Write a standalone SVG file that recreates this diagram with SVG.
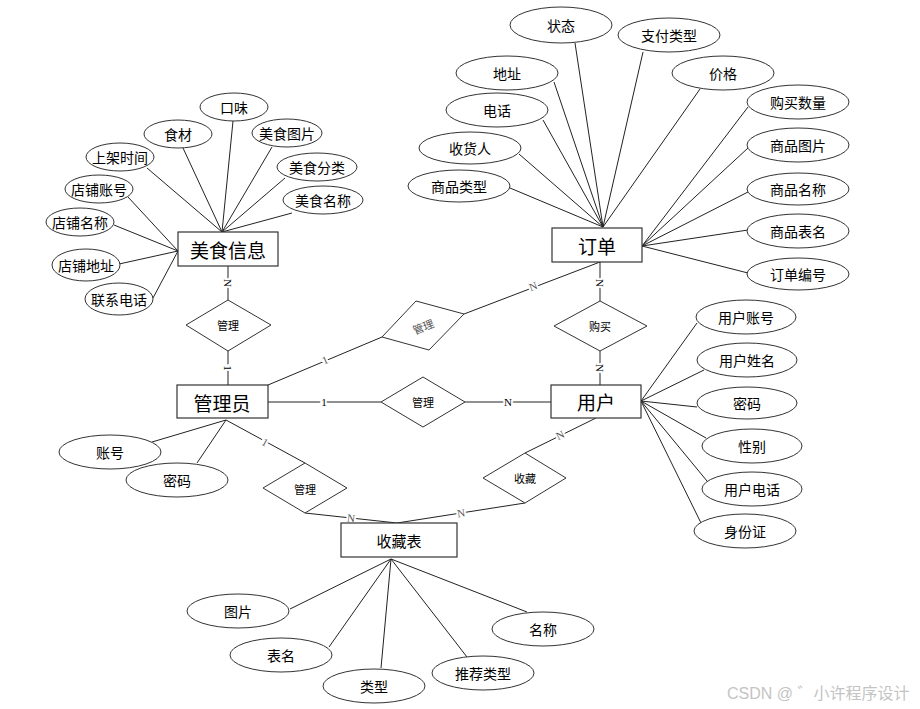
<svg xmlns="http://www.w3.org/2000/svg" width="920" height="709" viewBox="0 0 920 709">
<style>
text{font-family:"Noto Sans CJK SC","Liberation Sans",sans-serif;text-anchor:middle;dominant-baseline:central;fill:#000}
.ent rect{fill:#fff;stroke:#333;stroke-width:1.2}
.ent text{font-size:19px}
.attr ellipse{fill:#fff;stroke:#333;stroke-width:1}
.attr text{font-size:14px}
.rel polygon{fill:#fff;stroke:#333;stroke-width:1}
.rel text{font-size:11px}
#conn line{stroke:#222;stroke-width:1}
.card{font-family:"Liberation Serif",serif;font-size:11px;paint-order:stroke;stroke:#fff;stroke-width:4px}
.wm{font-family:"Liberation Sans","Noto Sans CJK SC",sans-serif;font-size:16px;fill:#c4c4c4;text-anchor:start}
</style>
<g id="conn">
<line x1="233" y1="121" x2="222" y2="232"/>
<line x1="183" y1="148" x2="222" y2="232"/>
<line x1="272" y1="147" x2="222" y2="232"/>
<line x1="285" y1="178" x2="222" y2="232"/>
<line x1="292" y1="213" x2="222" y2="232"/>
<line x1="147" y1="168" x2="222" y2="232"/>
<line x1="128" y1="197" x2="178" y2="251"/>
<line x1="114" y1="225" x2="178" y2="251"/>
<line x1="119" y1="264" x2="178" y2="251"/>
<line x1="153" y1="298" x2="178" y2="251"/>
<line x1="575" y1="43" x2="603" y2="227"/>
<line x1="643" y1="52" x2="603" y2="227"/>
<line x1="554" y1="82" x2="603" y2="227"/>
<line x1="700" y1="89" x2="603" y2="227"/>
<line x1="543" y1="120" x2="603" y2="227"/>
<line x1="519" y1="154" x2="603" y2="227"/>
<line x1="510" y1="188" x2="603" y2="227"/>
<line x1="748" y1="107" x2="642" y2="246"/>
<line x1="748" y1="148" x2="642" y2="246"/>
<line x1="748" y1="192" x2="642" y2="246"/>
<line x1="748" y1="230" x2="642" y2="246"/>
<line x1="748" y1="273" x2="642" y2="246"/>
<line x1="697" y1="323" x2="641" y2="401"/>
<line x1="704" y1="370" x2="641" y2="401"/>
<line x1="697" y1="407" x2="641" y2="401"/>
<line x1="706" y1="438" x2="641" y2="401"/>
<line x1="707" y1="481" x2="641" y2="401"/>
<line x1="701" y1="523" x2="641" y2="401"/>
<line x1="152" y1="442" x2="226" y2="420"/>
<line x1="197" y1="463" x2="226" y2="420"/>
<line x1="290" y1="609" x2="391" y2="559"/>
<line x1="329" y1="647" x2="391" y2="559"/>
<line x1="381" y1="668" x2="391" y2="559"/>
<line x1="467" y1="657" x2="391" y2="559"/>
<line x1="527" y1="612" x2="391" y2="559"/>
<line x1="228" y1="266" x2="228" y2="300"/>
<line x1="228" y1="351" x2="228" y2="385"/>
<line x1="268" y1="385" x2="382" y2="337"/>
<line x1="464" y1="314" x2="600" y2="262"/>
<line x1="600" y1="262" x2="600" y2="301"/>
<line x1="600" y1="351" x2="600" y2="385"/>
<line x1="268" y1="402" x2="381" y2="402"/>
<line x1="465" y1="402" x2="551" y2="402"/>
<line x1="596" y1="418" x2="525" y2="453"/>
<line x1="525" y1="503" x2="397" y2="523"/>
<line x1="226" y1="420" x2="305" y2="463"/>
<line x1="305" y1="513" x2="397" y2="523"/>
<text class="card" transform="translate(228,283) rotate(90)">N</text>
<text class="card" transform="translate(228,368) rotate(90)">1</text>
<text class="card" transform="translate(325,360) rotate(-23)" style="fill:#555">1</text>
<text class="card" transform="translate(533,286) rotate(-21)" style="fill:#555">N</text>
<text class="card" transform="translate(600,283) rotate(90)">N</text>
<text class="card" transform="translate(600,368) rotate(90)">N</text>
<text class="card" x="324" y="402">1</text>
<text class="card" x="508" y="402">N</text>
<text class="card" transform="translate(560,435) rotate(-26)" style="fill:#555">N</text>
<text class="card" transform="translate(461,513) rotate(-9)" style="fill:#555">N</text>
<text class="card" transform="translate(265,442) rotate(29)" style="fill:#555">1</text>
<text class="card" transform="translate(351,518) rotate(6)" style="fill:#555">N</text>
</g>
<g id="ent-meishi" class="ent"><rect x="178" y="232" width="100" height="34"/><text x="228" y="249">美食信息</text></g>
<g id="ent-dingdan" class="ent"><rect x="552" y="228" width="90" height="34"/><text x="597" y="245">订单</text></g>
<g id="ent-admin" class="ent"><rect x="177" y="385" width="91" height="33"/><text x="222" y="402">管理员</text></g>
<g id="ent-user" class="ent"><rect x="551" y="385" width="90" height="33"/><text x="596" y="401">用户</text></g>
<g id="ent-shoucang" class="ent"><rect x="341" y="523" width="116" height="34"/><text x="399" y="540" style="font-size:15px">收藏表</text></g>
<g id="rel-guanli1" class="rel"><polygon points="228,300 271,325 228,351 186,325"/><text x="228" y="325">管理</text></g>
<g id="rel-guanli2" class="rel"><polygon points="416,301 464,314 429,350 382,337"/><text transform="translate(423,326) rotate(-22)" style="fill:#555">管理</text></g>
<g id="rel-goumai" class="rel"><polygon points="600,301 647,326 600,351 554,326"/><text x="600" y="326">购买</text></g>
<g id="rel-guanli3" class="rel"><polygon points="423,377 465,402 423,427 381,402"/><text x="423" y="402">管理</text></g>
<g id="rel-guanli4" class="rel"><polygon points="305,463 347,488 305,513 263,488"/><text x="305" y="489">管理</text></g>
<g id="rel-shoucang" class="rel"><polygon points="525,453 566,478 525,503 483,478"/><text x="525" y="478">收藏</text></g>
<g id="a-kouwei" class="attr"><ellipse cx="234" cy="107" rx="34" ry="14"/><text x="234" y="107">口味</text></g>
<g id="a-shicai" class="attr"><ellipse cx="178" cy="134" rx="34" ry="14"/><text x="178" y="134">食材</text></g>
<g id="a-mstp" class="attr"><ellipse cx="287" cy="133" rx="35" ry="14"/><text x="287" y="133">美食图片</text></g>
<g id="a-msfl" class="attr"><ellipse cx="317" cy="167" rx="40" ry="14"/><text x="317" y="167">美食分类</text></g>
<g id="a-msmc" class="attr"><ellipse cx="323" cy="200" rx="40" ry="14"/><text x="323" y="200">美食名称</text></g>
<g id="a-sjsj" class="attr"><ellipse cx="120" cy="157" rx="34" ry="14"/><text x="120" y="157">上架时间</text></g>
<g id="a-dpzh" class="attr"><ellipse cx="99" cy="189" rx="34" ry="14"/><text x="99" y="189">店铺账号</text></g>
<g id="a-dpmc" class="attr"><ellipse cx="80" cy="222" rx="34" ry="14"/><text x="80" y="222">店铺名称</text></g>
<g id="a-dpdz" class="attr"><ellipse cx="86" cy="265" rx="34" ry="16"/><text x="86" y="265">店铺地址</text></g>
<g id="a-lxdh" class="attr"><ellipse cx="119" cy="299" rx="34" ry="16"/><text x="119" y="299">联系电话</text></g>
<g id="a-zhuangtai" class="attr"><ellipse cx="561" cy="25" rx="51" ry="18"/><text x="561" y="25">状态</text></g>
<g id="a-zflx" class="attr"><ellipse cx="669" cy="35" rx="51" ry="17"/><text x="669" y="35">支付类型</text></g>
<g id="a-dizhi" class="attr"><ellipse cx="507" cy="73" rx="51" ry="17"/><text x="507" y="73">地址</text></g>
<g id="a-jiage" class="attr"><ellipse cx="723" cy="73" rx="51" ry="17"/><text x="723" y="73">价格</text></g>
<g id="a-dianhua" class="attr"><ellipse cx="497" cy="110" rx="51" ry="17"/><text x="497" y="110">电话</text></g>
<g id="a-gmsl" class="attr"><ellipse cx="798" cy="102" rx="51" ry="17"/><text x="798" y="102">购买数量</text></g>
<g id="a-shr" class="attr"><ellipse cx="470" cy="148" rx="51" ry="16"/><text x="470" y="148">收货人</text></g>
<g id="a-sptp" class="attr"><ellipse cx="798" cy="145" rx="51" ry="17"/><text x="798" y="145">商品图片</text></g>
<g id="a-splx" class="attr"><ellipse cx="459" cy="186" rx="51" ry="16"/><text x="459" y="186">商品类型</text></g>
<g id="a-spmc" class="attr"><ellipse cx="798" cy="189" rx="51" ry="16"/><text x="798" y="189">商品名称</text></g>
<g id="a-spbm" class="attr"><ellipse cx="798" cy="231" rx="51" ry="17"/><text x="798" y="231">商品表名</text></g>
<g id="a-ddbh" class="attr"><ellipse cx="798" cy="274" rx="51" ry="16"/><text x="798" y="274">订单编号</text></g>
<g id="a-yhzh" class="attr"><ellipse cx="746" cy="317" rx="50" ry="17"/><text x="746" y="317">用户账号</text></g>
<g id="a-yhxm" class="attr"><ellipse cx="747" cy="360" rx="50" ry="17"/><text x="747" y="360">用户姓名</text></g>
<g id="a-mima-u" class="attr"><ellipse cx="747" cy="403" rx="50" ry="16"/><text x="747" y="403">密码</text></g>
<g id="a-xingbie" class="attr"><ellipse cx="752" cy="446" rx="50" ry="17"/><text x="752" y="446">性别</text></g>
<g id="a-yhdh" class="attr"><ellipse cx="752" cy="489" rx="50" ry="17"/><text x="752" y="489">用户电话</text></g>
<g id="a-sfz" class="attr"><ellipse cx="745" cy="531" rx="51" ry="17"/><text x="745" y="531">身份证</text></g>
<g id="a-zhanghao" class="attr"><ellipse cx="110" cy="452" rx="51" ry="17"/><text x="110" y="452">账号</text></g>
<g id="a-mima-a" class="attr"><ellipse cx="177" cy="480" rx="51" ry="17"/><text x="177" y="480">密码</text></g>
<g id="a-tupian" class="attr"><ellipse cx="238" cy="611" rx="51" ry="17"/><text x="238" y="611">图片</text></g>
<g id="a-biaoming" class="attr"><ellipse cx="281" cy="655" rx="51" ry="17"/><text x="281" y="655">表名</text></g>
<g id="a-leixing" class="attr"><ellipse cx="374" cy="686" rx="51" ry="17"/><text x="374" y="686">类型</text></g>
<g id="a-tjlx" class="attr"><ellipse cx="483" cy="673" rx="51" ry="17"/><text x="483" y="673">推荐类型</text></g>
<g id="a-mingcheng" class="attr"><ellipse cx="543" cy="629" rx="51" ry="17"/><text x="543" y="629">名称</text></g>
<text class="wm" x="727" y="693">CSDN @ ゛小许程序设计</text>
</svg>
